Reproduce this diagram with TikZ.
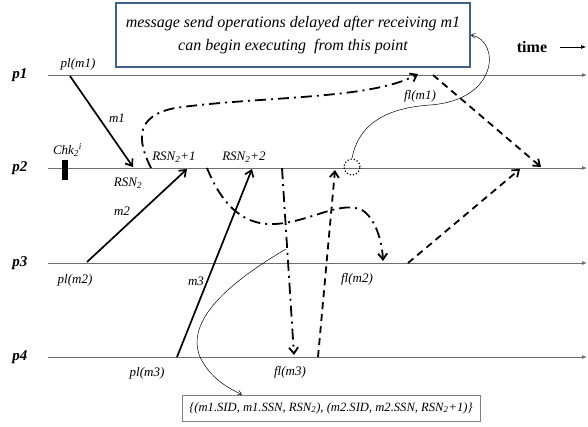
\documentclass[tikz,border=0pt]{standalone}
\usepackage{fontspec}
\setmainfont{Liberation Serif}
\usetikzlibrary{arrows.meta}

\definecolor{boxblue}{RGB}{65,95,140}
\definecolor{lanegray}{RGB}{110,110,110}

\tikzset{
  lane/.style={draw=lanegray,line width=0.8pt,-{Latex[length=5pt,width=4pt]}},
  proc/.style={font=\fontsize{15}{15}\selectfont\bfseries\itshape},
  lbl/.style={font=\fontsize{13}{13}\selectfont\itshape,inner sep=1pt},
  msg/.style={line width=1.7pt,-{Straight Barb[length=6pt,width=9pt]}},
  dsh/.style={line width=1.8pt,dash pattern=on 7pt off 5pt,-{Straight Barb[length=6pt,width=9pt]}},
  dshdot/.style={line width=1.8pt,dash pattern=on 11pt off 5pt on 2pt off 5pt,-{Straight Barb[length=6pt,width=9pt]}},
  thinarrow/.style={line width=0.5pt,-{Straight Barb[length=4pt,width=5pt]}}
}

\begin{document}
\begin{tikzpicture}[x=1pt,y=-1pt]
\useasboundingbox (0,0) rectangle (588,426);

% process lines
\foreach \i/\y in {1/75,2/168,3/263,4/357}{
  \node[proc] (p\i) at (20,\y) {p\i};
  \coordinate (s\i) at (48,\y);
  \coordinate (e\i) at (587,\y);
  \draw[lane] (s\i) -- (e\i);
}

\node[draw=boxblue,line width=1.5pt,minimum width=354pt,minimum height=64pt,
  align=center,font=\fontsize{16}{23}\selectfont\itshape] (note) at (293,35)
  {message send operations delayed after receiving m1\\can begin executing\ \ from this point};
\node[font=\fontsize{16}{16}\selectfont\bfseries] (time) at (532,47) {time};
\coordinate (t1) at (560,47);
\coordinate (t2) at (586,47);
\draw[line width=0.6pt,-{Latex[length=5pt,width=4pt]}] (t1) -- (t2);

\node[draw=gray,line width=0.8pt,minimum width=298pt,minimum height=26pt,
  font=\fontsize{12.6}{13}\selectfont\itshape] (log) at (331,408)
  {\{(m1.SID, m1.SSN, RSN\textsubscript{2}), (m2.SID, m2.SSN, RSN\textsubscript{2}+1)\}};

% checkpoint
\node[fill=black,minimum width=6pt,minimum height=20pt,inner sep=0pt] (chk) at (65,170) {};
\node[lbl] (chklbl) at (66,150) {Chk\textsubscript{2}\rlap{\textsuperscript{i}}};

% application messages
\coordinate (pl1) at (70,76);
\coordinate (r1) at (133,167);
\coordinate (pl2) at (87,262);
\coordinate (r2) at (187,169);
\coordinate (pl3) at (177,357);
\coordinate (r3) at (252,169);
\draw[msg] (pl1) -- (r1);
\draw[msg] (pl2) -- (r2);
\draw[msg] (pl3) -- (r3);

\node[lbl] (lpl1) at (78,64) {pl(m1)};
\node[lbl] (lm1) at (117,118) {m1};
\node[lbl] (lrsn) at (128,183) {RSN\textsubscript{2}};
\node[lbl] (lrsn1) at (174,157) {RSN\textsubscript{2}+1};
\node[lbl] (lrsn2) at (244,157) {RSN\textsubscript{2}+2};
\node[lbl] (lm2) at (122,211) {m2};
\node[lbl] (lpl2) at (75,280) {pl(m2)};
\node[lbl] (lm3) at (196,281) {m3};
\node[lbl] (lpl3) at (147,373) {pl(m3)};

% forwarded log entries
\coordinate (f1s) at (151,168);
\coordinate (f1e) at (418,74);
\coordinate (f2s) at (207,168);
\coordinate (f2e) at (383,261);
\coordinate (f3s) at (282,168);
\coordinate (f3e) at (294,355);
\draw[dshdot] (f1s) .. controls (137,140) and (135,116) .. (175,108)
  .. controls (260,96) and (370,100) .. (f1e);
\draw[dshdot] (f2s) .. controls (220,200) and (240,226) .. (275,224)
  .. controls (310,222) and (340,200) .. (362,210)
  .. controls (375,218) and (382,240) .. (f2e);
\draw[dshdot] (f3s) -- (f3e);

\node[lbl] (lfl1) at (420,96) {fl(m1)};
\node[lbl] (lfl2) at (357,279) {fl(m2)};
\node[lbl] (lfl3) at (290,372) {fl(m3)};

% acknowledgements
\coordinate (a1s) at (433,75);
\coordinate (a1e) at (541,167);
\coordinate (a2s) at (408,263);
\coordinate (a2e) at (520,169);
\coordinate (a3s) at (318,357);
\coordinate (a3e) at (335,170);
\draw[dsh] (a1s) -- (a1e);
\draw[dsh] (a2s) -- (a2e);
\draw[dsh] (a3s) -- (a3e);

\node[circle,draw,dotted,line width=1.2pt,minimum size=16pt,inner sep=0pt] (wait) at (352,167) {};
\draw[thinarrow] (wait.north) .. controls (358,125) and (385,108) .. (430,105)
  .. controls (500,100) and (500,40) .. (note.east);

\coordinate (logsrc) at (286,249);
\draw[thinarrow] (logsrc) .. controls (230,282) and (185,320) .. (200,357)
  .. controls (210,378) and (228,388) .. (log.north -| 242,0);
\end{tikzpicture}
\end{document}
